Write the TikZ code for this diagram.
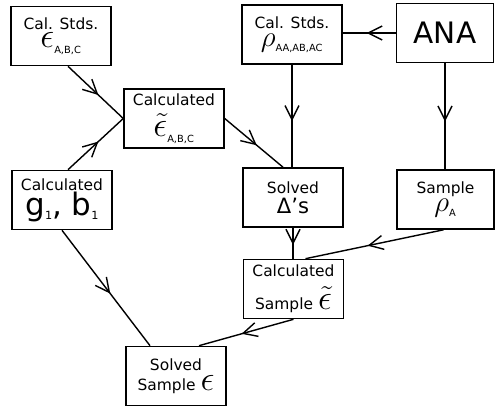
\documentclass[tikz,border=0pt]{standalone}
\usepackage{amsmath,amssymb}
\usepackage{fontspec}
\setmainfont{DejaVu Sans}
\usetikzlibrary{arrows.meta,calc,decorations.markings}

\newcommand{\bigsym}[1]{{\fontsize{24}{24}\selectfont$#1$}}
\newcommand{\lbl}[1]{\text{\fontsize{7}{8}\selectfont #1}}
\newcommand{\sbs}[1]{\raisebox{-0.25ex}{\fontsize{8}{9}\selectfont #1}}

\begin{document}
\begin{tikzpicture}[x=0.025cm, y=-0.025cm,
  box/.style={draw, line width=1pt, minimum width=2.5cm, minimum height=1.48cm,
    align=center, inner sep=1pt, font=\fontsize{11}{12}\selectfont},
  flow/.style={line width=1pt, postaction={decorate},
    decoration={markings, mark=at position 0.55 with {\arrow{Straight Barb[length=3.5mm,width=3.5mm]}}}},
]
\useasboundingbox (0,0) rectangle (495,407);
% left column
\node[box] (stdE) at (61,36) {Cal. Stds.\\[1pt]\bigsym{\epsilon_{\lbl{A,B,C}}}};
\node[box] (calE) at (174,118.5) {Calculated\\[5pt]\bigsym{\tilde{\epsilon}_{\lbl{A,B,C}}}};
\node[box] (calGB) at (62,200) {Calculated\\{\fontsize{22}{24}\selectfont g\sbs{1}, b\sbs{1}}};
\node[box] (solS) at (176,376) {Solved\\[2pt]Sample \bigsym{\epsilon}};
% right columns
\node[box] (stdR) at (292,34.5) {Cal. Stds.\\[1pt]{\fontsize{20}{22}\selectfont$\rho_{\lbl{AA,AB,AC}}$}};
\node[box, minimum width=2.42cm] (ana) at (445,33) {\fontsize{21}{24}\selectfont ANA};
\node[box] (solD) at (293,197.5) {Solved\\[2pt]{\fontsize{15}{17}\selectfont Δ's}};
\node[box, minimum width=2.42cm] (sampR) at (445.5,199.5) {Sample\\[1pt]{\fontsize{20}{22}\selectfont$\rho_{\lbl{A}}$}};
\node[box] (calS) at (293.5,289) {Calculated\\[6pt]Sample \bigsym{\tilde{\epsilon}}};

\draw[flow] ($(stdE.south)+(7,0)$) -- (calE.west);
\draw[flow] ($(calGB.north)+(6,0)$) -- (calE.west);
\draw[flow] (calE.east) -- ($(solD.north)+(-10,0)$);
\draw[flow] (stdR.south) -- (stdR.south |- solD.north);
\draw[flow] (ana.west) -- (ana.west -| stdR.east);
\draw[flow] (ana.south) -- (ana.south |- sampR.north);
\draw[flow] (solD.south) -- (solD.south |- calS.north);
\draw[flow] ($(sampR.south)+(-2,0)$) -- ($(calS.north)+(12,0)$);
\draw[flow] (calS.south) -- ($(solS.north)+(23,0)$);
\draw[flow] (calGB.south) -- ($(solS.north)+(-26,0)$);
\end{tikzpicture}
\end{document}
